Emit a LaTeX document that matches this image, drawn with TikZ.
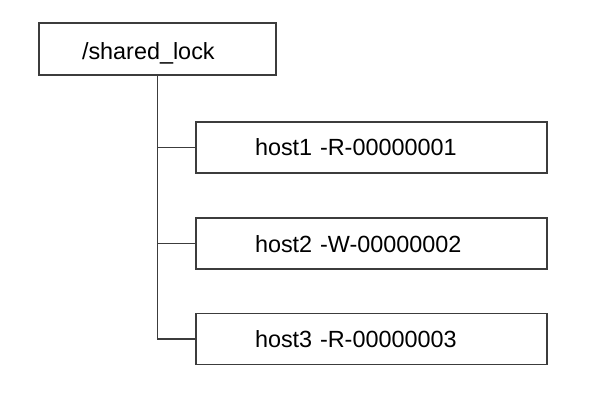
\documentclass[tikz,border=0pt]{standalone}
\usepackage{fontspec}
\setmainfont{Liberation Sans}
\usepackage{tikz}
\usetikzlibrary{positioning}
\definecolor{linegray}{HTML}{3C3C3C}
\tikzset{
  lockbox/.style={draw=linegray, line width=1.4pt, minimum height=51pt, align=left,
    font=\fontsize{23.4}{28}\selectfont, text height=17pt, text depth=0pt},
  rootbox/.style={lockbox, minimum height=52pt, text width=151pt, inner xsep=43pt, text height=22pt},
  hostbox/.style={lockbox, text width=233pt, inner xsep=59pt},
  branch/.style={draw=linegray, line width=1.4pt}
}
\begin{document}
\begin{tikzpicture}[x=1pt, y=-1pt]
  \useasboundingbox (0,0) rectangle (614,420);
  % lock node
  \node[rootbox] (root) at (157.5,49) {/shared\_lock};
  % child nodes
  \foreach \n/\y/\txt in {1/147.5/host1 -R-00000001, 2/243.5/host2 -W-00000002, 3/339/host3 -R-00000003}
    \node[hostbox] (h\n) at (371.5,\y) {\txt};
  % tree lines
  \draw[branch] (root.south) |- (h3.west);
  \foreach \h in {h1,h2} \draw[branch] (root.south |- \h.west) -- (\h.west);
\end{tikzpicture}
\end{document}
